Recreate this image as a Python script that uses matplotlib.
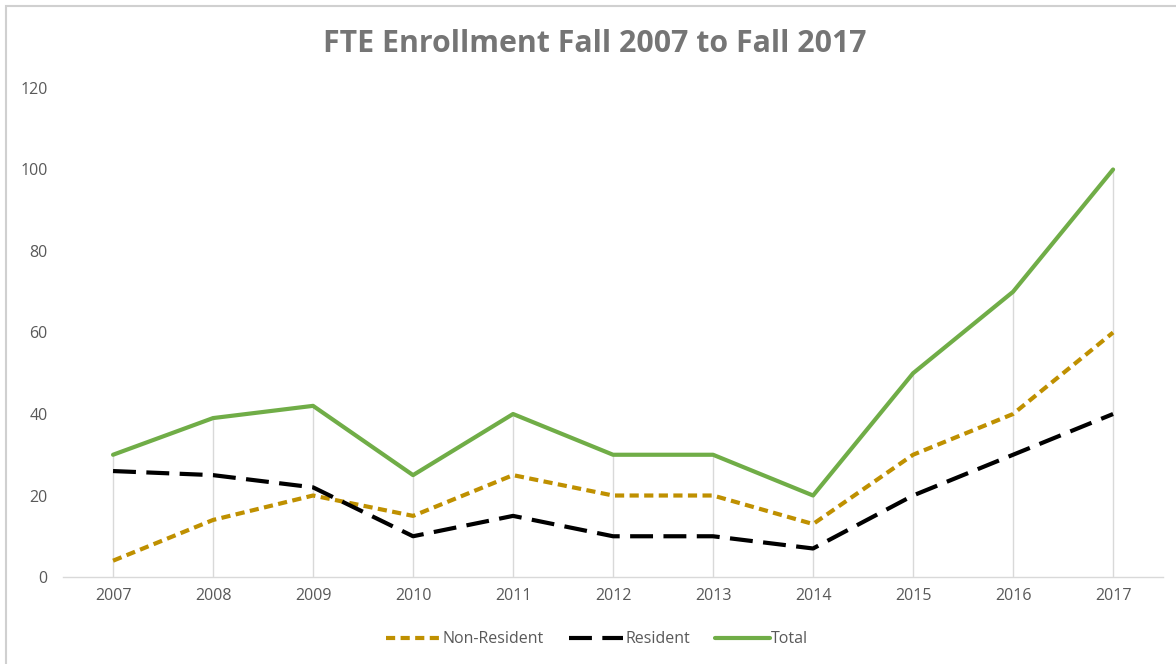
import matplotlib
matplotlib.use("Agg")
import matplotlib.pyplot as plt
from matplotlib.patches import Rectangle

years = ["2007", "2008", "2009", "2010", "2011", "2012", "2013", "2014", "2015", "2016", "2017"]
non_resident = [4, 14, 20, 15, 25, 20, 20, 13, 30, 40, 60]
resident = [26, 25, 22, 10, 15, 10, 10, 7, 20, 30, 40]
total = [30, 39, 42, 25, 40, 30, 30, 20, 50, 70, 100]
yticks = [0, 20, 40, 60, 80, 100, 120]

plt.rcParams['font.family'] = ['Open Sans', 'DejaVu Sans']

fig = plt.figure(figsize=(11.76, 6.64), dpi=100)
ax = fig.add_axes([0.0536, 0.131, 0.9354, 0.7365])

x = list(range(len(years)))
tops = [max(a, b, c) for a, b, c in zip(non_resident, resident, total)]
ax.vlines(x, 0, tops, color='#d9d9d9', lw=1.0, zorder=1)

ax.plot(x, non_resident, color='#BF9000', lw=3, ls=(0, (2.2, 1.3)), label='Non-Resident', zorder=3)
ax.plot(x, resident, color='#000000', lw=3, ls=(0, (5.5, 2.5)), label='Resident', zorder=3)
ax.plot(x, total, color='#70AD47', lw=3, label='Total', zorder=4, solid_capstyle='round')

ax.set_xlim(-0.5, len(years) - 0.5)
ax.set_ylim(0, 120)
ax.set_xticks(x)
ax.set_xticklabels(years)
ax.set_yticks(yticks)
for s in ['top', 'right', 'left']:
    ax.spines[s].set_visible(False)
ax.spines['bottom'].set_color('#d9d9d9')
ax.spines['bottom'].set_linewidth(1.0)
ax.tick_params(axis='both', length=0, labelsize=11.5, colors='#595959', pad=8)
ax.tick_params(axis='y', pad=11)

fig.text(0.506, 0.933, 'FTE Enrollment Fall 2007 to Fall 2017', ha='center', va='center',
         fontsize=21.8, fontweight='bold', color='#757575')

leg = fig.legend(loc='center', bbox_to_anchor=(0.508, 0.037), ncol=3, frameon=False,
                 fontsize=11.5, handlelength=3.4, handletextpad=0.1, columnspacing=1.6)
for t in leg.get_texts():
    t.set_color('#595959')

fig.patches.append(Rectangle((0.005, -0.1), 1.2, 1.091, transform=fig.transFigure,
                             fill=False, edgecolor='#d0d0d0', lw=1.5))

fig.savefig('out.png', dpi=100)
